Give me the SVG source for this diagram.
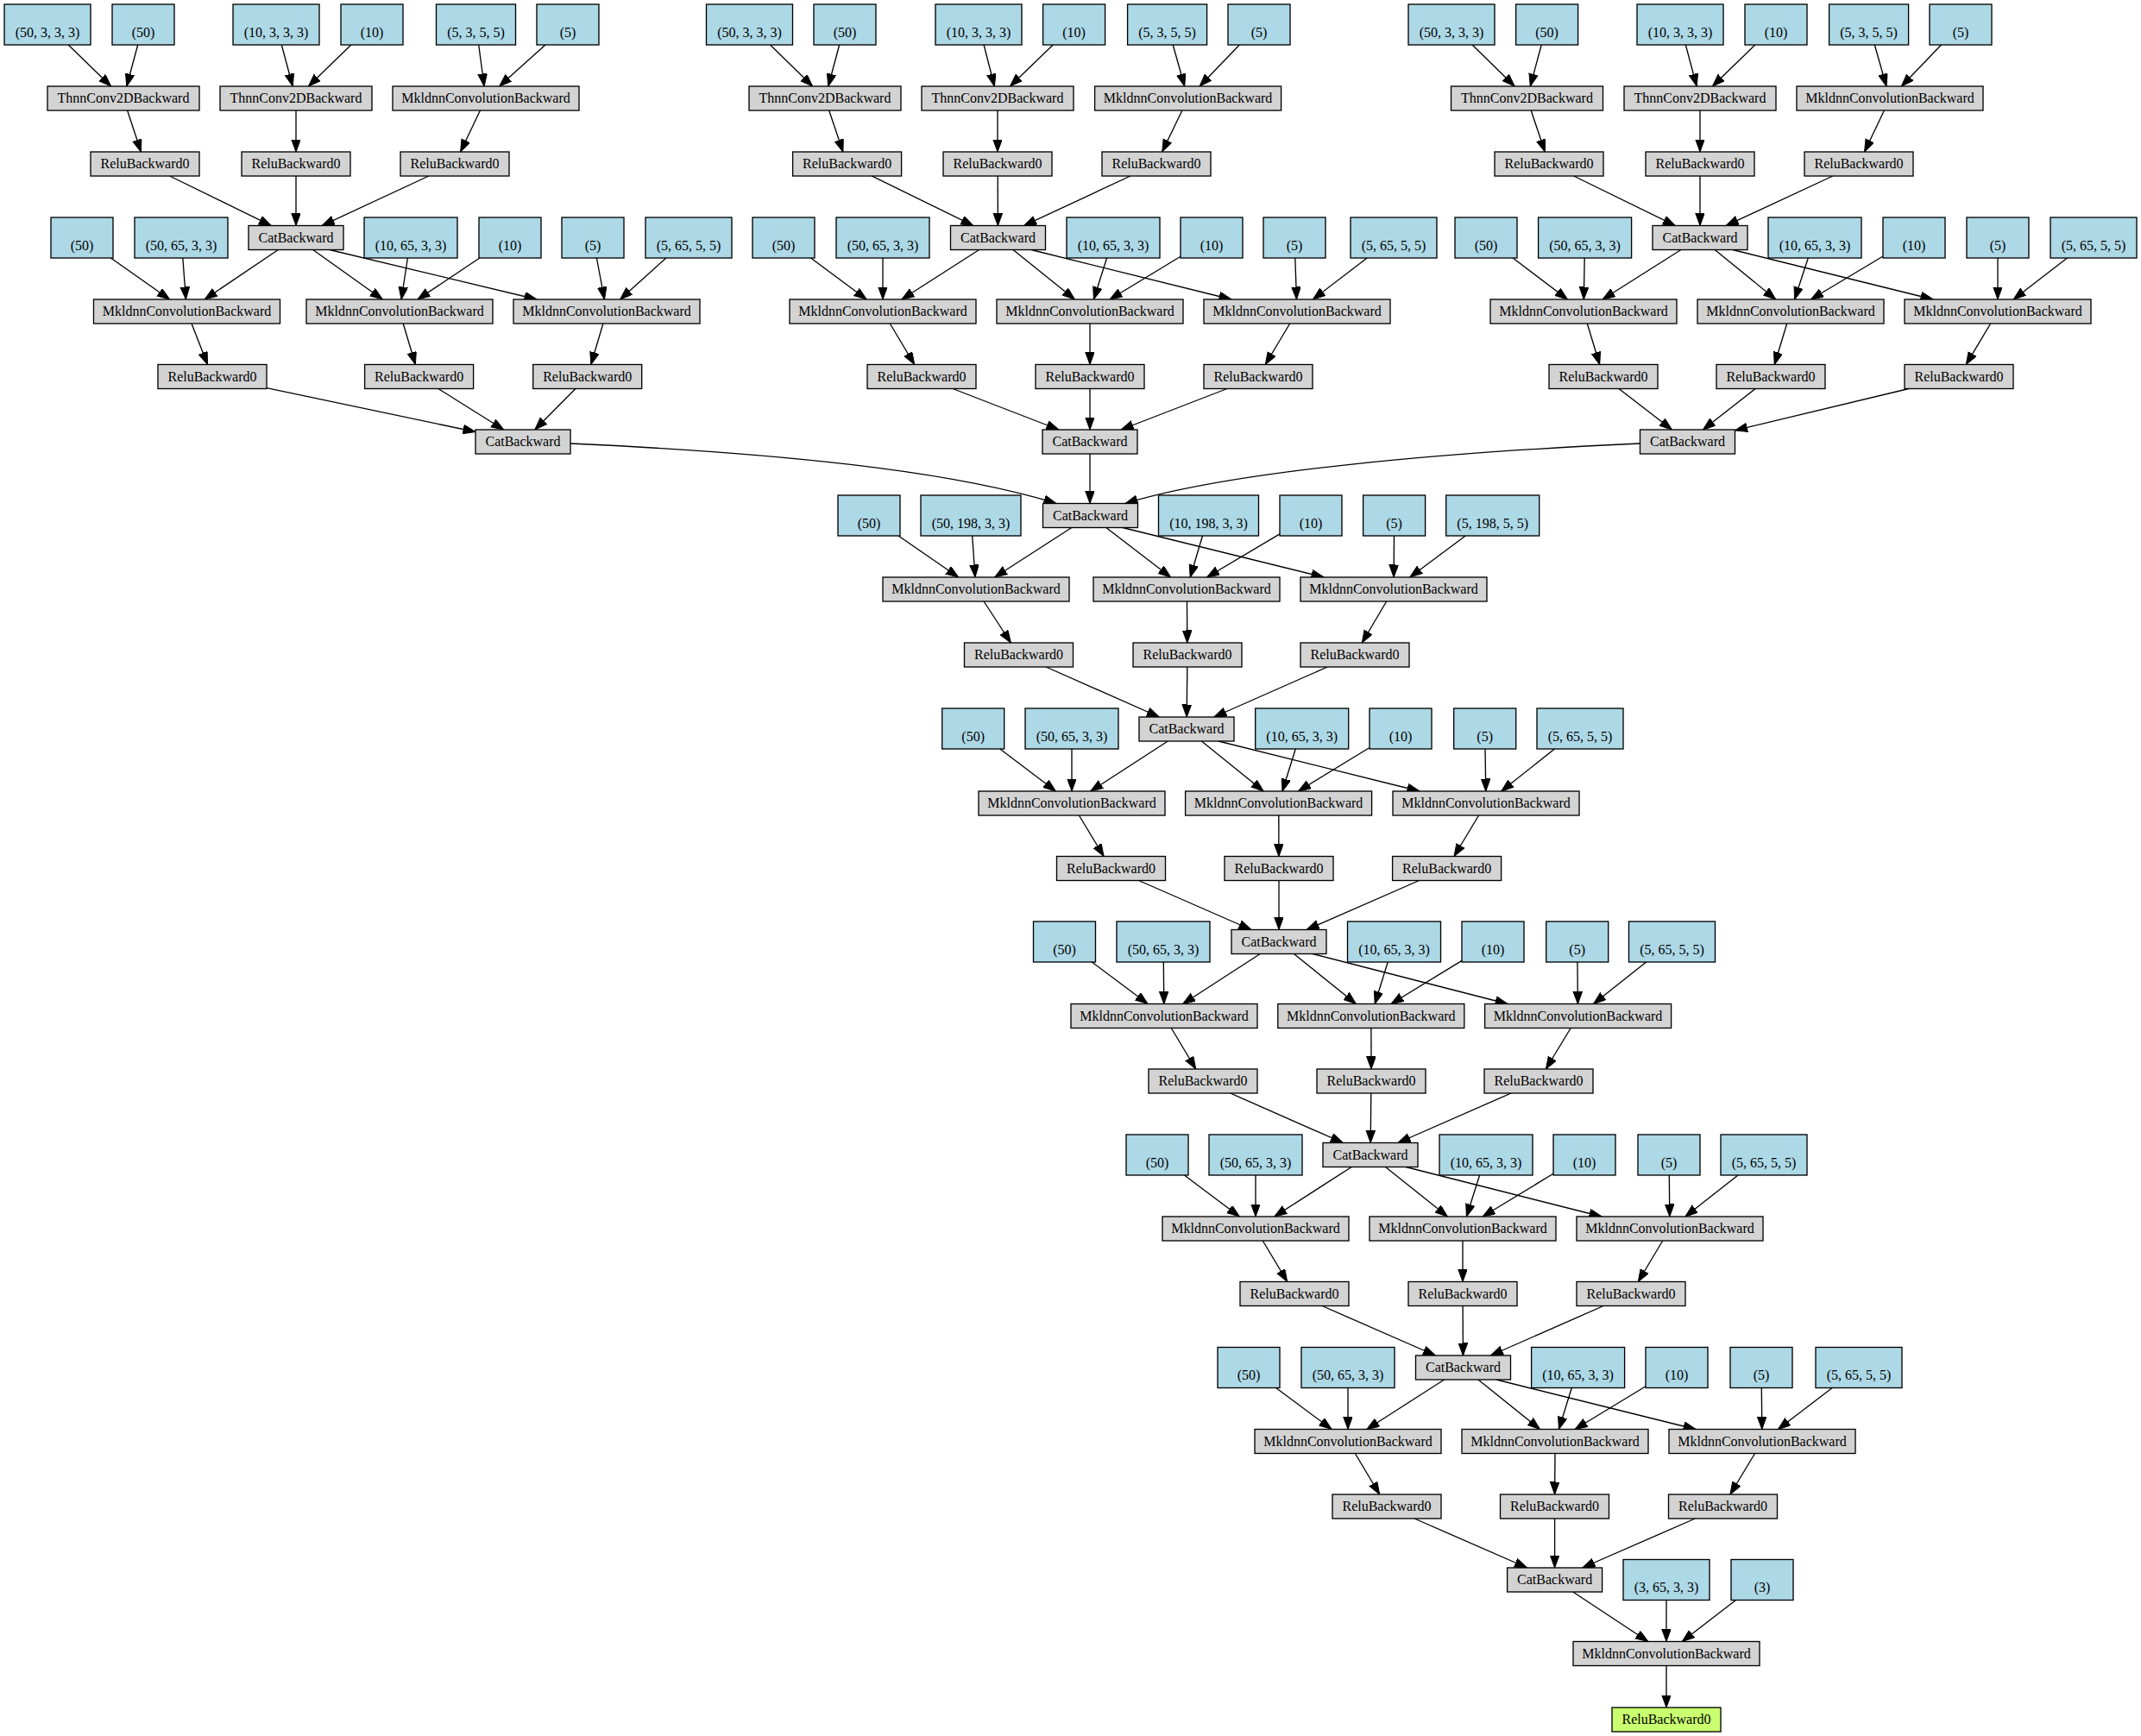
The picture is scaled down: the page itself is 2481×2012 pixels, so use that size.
<svg xmlns="http://www.w3.org/2000/svg" width="2481" height="2012" viewBox="0 0 2481 2012">
<defs>
<style>
.p,.g,.o{stroke:#000;stroke-width:1.33}
.p{fill:#add8e6}
.g{fill:#d3d3d3}
.o{fill:#caff70}
text{font-family:"Liberation Serif","Times New Roman",serif;font-size:16px;text-anchor:middle;fill:#000}
.e path{fill:none;stroke:#000;stroke-width:1.33;marker-end:url(#arr)}
</style>
<marker id="arr" markerUnits="userSpaceOnUse" markerWidth="16" markerHeight="12" refX="14.5" refY="5.3" orient="auto" viewBox="0 0 16 12"><path d="M0,0 L14.5,5.3 L0,10.6 z" fill="#000" stroke="#000" stroke-width="1"/></marker>
</defs>
<rect x="0" y="0" width="2481" height="2012" fill="#fff"/>
<g class="e" id="edges">
<path d="M79.2,52 L128.6,100"/><path d="M159.7,52 L146.8,100"/><path d="M326.3,52 L339.2,100"/><path d="M406.8,52 L357.4,100"/><path d="M554.7,52 L561.1,100"/><path d="M631.9,52 L578.6,100"/>
<path d="M147.6,128 L163.4,176"/><path d="M343,128 L343,176"/><path d="M556.4,128 L533.6,176"/>
<path d="M196.7,204 L314.3,261.5"/><path d="M343,204 L343,261.5"/><path d="M496.8,204 L373.2,261.5"/>
<path d="M128.4,299 L196.6,347"/><path d="M211.8,299 L215.4,347"/><path d="M322.3,289.5 L237.2,347"/><path d="M362.7,289.5 L443.3,347"/><path d="M472.4,299 L465.1,347"/><path d="M555.8,299 L484,347"/><path d="M382,289.5 L622,347"/><path d="M691.4,299 L700.4,347"/><path d="M771.9,299 L718.6,347"/>
<path d="M222,375 L240.5,422.5"/><path d="M467.2,375 L481.4,422.5"/><path d="M698.9,375 L684.8,422.5"/>
<path d="M309,449.7 L551,500.5"/><path d="M507.9,450.5 L583.7,498"/><path d="M666.9,450.5 L619.8,498"/>
<path d="M892.6,52 L941.6,100"/><path d="M972.7,52 L959.8,100"/><path d="M1140.1,52 L1152.4,100"/><path d="M1220.2,52 L1170.5,100"/><path d="M1359.2,52 L1372.7,100"/><path d="M1436.3,52 L1390.1,100"/>
<path d="M960.7,128 L976.9,176"/><path d="M1156,128 L1156,176"/><path d="M1369.9,128 L1346.7,176"/>
<path d="M1010.3,204 L1127.8,261.5"/><path d="M1156.2,204 L1156.4,261.5"/><path d="M1309.9,204 L1186.6,261.5"/>
<path d="M939.6,299 L1004.1,347"/><path d="M1023,299 L1023,347"/><path d="M1134.6,289.5 L1044.9,347"/><path d="M1174,289.5 L1245.5,347"/><path d="M1282.6,299 L1267.4,347"/><path d="M1368,297.3 L1286.1,347"/><path d="M1195,289.5 L1427,347"/><path d="M1500.8,299 L1502.5,347"/><path d="M1584.2,299 L1521.4,347"/>
<path d="M1031.3,375 L1059.7,422.5"/><path d="M1263,375 L1263,422.5"/><path d="M1494.7,375 L1466.3,422.5"/>
<path d="M1104.1,450.5 L1226.9,498"/><path d="M1263,450.5 L1263,498"/><path d="M1421.9,450.5 L1299.1,498"/>
<path d="M1706.1,52 L1755.2,100"/><path d="M1786.2,52 L1773.3,100"/><path d="M1953.3,52 L1966.2,100"/><path d="M2033.8,52 L1984.4,100"/><path d="M2172.3,52 L2186,100"/><path d="M2249.5,52 L2203.4,100"/>
<path d="M1774.2,128 L1790.3,176"/><path d="M1970,128 L1970,176"/><path d="M2183.4,128 L2160.6,176"/>
<path d="M1823.7,204 L1941.3,261.5"/><path d="M1970,204 L1970,261.5"/><path d="M2123.8,204 L2000.2,261.5"/>
<path d="M1753.1,299 L1816.5,347"/><path d="M1836.2,299 L1835.3,347"/><path d="M1947.9,289.5 L1857.1,347"/><path d="M1987.2,289.5 L2057.8,347"/><path d="M2095.3,299 L2079.6,347"/><path d="M2182,297 L2098.5,347"/><path d="M2008,289.5 L2240,347"/><path d="M2315,299 L2315,347"/><path d="M2395.5,299 L2333.2,347"/>
<path d="M1839.3,375 L1853.7,422.5"/><path d="M2070.7,375 L2056.3,422.5"/><path d="M2306.7,375 L2278.3,422.5"/>
<path d="M1876,450.5 L1937.5,498"/><path d="M2034.1,450.5 L1973.4,498"/><path d="M2211.8,450.5 L2010.5,498.8"/>
<path d="M660.5,514 C900,525 1100,545 1224,583.5"/><path d="M1263,526 L1263,583.5"/><path d="M1900.5,514 C1680,524 1430,545 1304,583.5"/>
<path d="M1041.1,621 L1110.7,669"/><path d="M1126.7,621 L1130,669"/><path d="M1241.8,611.5 L1152.7,669"/><path d="M1281.8,611.5 L1356.7,669"/><path d="M1393.5,621 L1379.2,669"/><path d="M1483,618.9 L1398.6,669"/><path d="M1301,611.5 L1534,669"/><path d="M1615.5,621 L1615.1,669"/><path d="M1698.2,621 L1633.8,669"/>
<path d="M1140.1,697 L1171.4,745"/><path d="M1375.5,697 L1375.8,745"/><path d="M1606.7,697 L1578.3,745"/>
<path d="M1212.2,773 L1343.3,831"/><path d="M1375.8,773 L1375.2,831"/><path d="M1538.2,773 L1406.8,831"/>
<path d="M1158.8,868 L1223.5,917"/><path d="M1242,868 L1242,917"/><path d="M1353.3,859 L1263.7,917"/><path d="M1392.4,859 L1464.2,917"/><path d="M1501.3,868 L1486,917"/><path d="M1587,866.5 L1504.5,917"/><path d="M1412,859 L1645,917"/><path d="M1721,868 L1721.8,917"/><path d="M1801.4,868 L1739.7,917"/>
<path d="M1250.4,945 L1279.1,992.5"/><path d="M1481.8,945 L1481.9,992.5"/><path d="M1713.6,945 L1685,992.5"/>
<path d="M1319.6,1020.5 L1449.9,1077.5"/><path d="M1482,1020.5 L1482,1077.5"/><path d="M1644.5,1020.5 L1514.1,1077.5"/>
<path d="M1265.3,1115 L1330.1,1163.5"/><path d="M1348.3,1115 L1348.8,1163.5"/><path d="M1460.3,1105.5 L1370.7,1163.5"/><path d="M1499.4,1105.5 L1571.4,1163.5"/><path d="M1608.2,1115 L1593.2,1163.5"/><path d="M1694,1113.4 L1612,1163.5"/><path d="M1521,1105.5 L1747,1163.5"/><path d="M1827.9,1115 L1828.4,1163.5"/><path d="M1907.6,1115 L1846.5,1163.5"/>
<path d="M1357.3,1191.5 L1385.7,1239"/><path d="M1588.9,1191.5 L1589,1239"/><path d="M1820.2,1191.5 L1791.4,1239"/>
<path d="M1425.8,1267 L1556.2,1324.5"/><path d="M1588.8,1267 L1588.2,1324.5"/><path d="M1751,1267 L1620,1324.5"/>
<path d="M1372.4,1362 L1436.3,1410"/><path d="M1455,1362 L1455,1410"/><path d="M1566.2,1352.5 L1476.8,1410"/><path d="M1605.5,1352.5 L1677.5,1410"/><path d="M1714.6,1362 L1699.4,1410"/><path d="M1800,1360.3 L1718.1,1410"/><path d="M1629,1352.5 L1856,1410"/><path d="M1934.3,1362 L1934.8,1410"/><path d="M2014,1362 L1952.9,1410"/>
<path d="M1463.3,1438 L1491.7,1485.5"/><path d="M1695,1438 L1695,1485.5"/><path d="M1926.7,1438 L1898.3,1485.5"/>
<path d="M1532.1,1513.5 L1663.4,1571"/><path d="M1695.1,1513.5 L1695.4,1571"/><path d="M1858.1,1513.5 L1727.4,1571"/>
<path d="M1478.6,1608.5 L1543.1,1656.5"/><path d="M1562,1608.5 L1562,1656.5"/><path d="M1673.6,1599 L1583.9,1656.5"/><path d="M1713,1599 L1784.5,1656.5"/><path d="M1821.3,1608.5 L1806.4,1656.5"/><path d="M1907,1606.8 L1825.1,1656.5"/><path d="M1734,1599 L1965,1656.5"/><path d="M2041.3,1608.5 L2041.8,1656.5"/><path d="M2123.2,1608.5 L2060.4,1656.5"/>
<path d="M1570.3,1684.5 L1598.7,1732"/><path d="M1802,1684.5 L1801.6,1732"/><path d="M2033.6,1684.5 L2004.9,1732"/>
<path d="M1639.1,1760 L1769.5,1817"/><path d="M1801.6,1760 L1801.6,1817"/><path d="M1964.3,1760 L1833.8,1817"/>
<path d="M1822.8,1845 L1909.8,1902.5"/><path d="M1931,1854.5 L1931,1902.5"/><path d="M2011.5,1854.5 L1949.2,1902.5"/>
<path d="M1931,1930.5 L1931,1979"/>
</g>
<!-- block 1 -->
<g id="b1_a1"><rect class="p" x="5" y="5" width="100" height="47"/><text x="55" y="42.5">(50, 3, 3, 3)</text></g>
<g id="b1_a2"><rect class="p" x="130" y="5" width="72" height="47"/><text x="166" y="42.5">(50)</text></g>
<g id="b1_a3"><rect class="p" x="270" y="5" width="100" height="47"/><text x="320" y="42.5">(10, 3, 3, 3)</text></g>
<g id="b1_a4"><rect class="p" x="395" y="5" width="72" height="47"/><text x="431" y="42.5">(10)</text></g>
<g id="b1_a5"><rect class="p" x="505.5" y="5" width="92" height="47"/><text x="551.5" y="42.5">(5, 3, 5, 5)</text></g>
<g id="b1_a6"><rect class="p" x="622" y="5" width="72" height="47"/><text x="658" y="42.5">(5)</text></g>
<g id="b1_b1"><rect class="g" x="55" y="100" width="176" height="28"/><text x="143" y="119">ThnnConv2DBackward</text></g>
<g id="b1_b2"><rect class="g" x="255" y="100" width="176" height="28"/><text x="343" y="119">ThnnConv2DBackward</text></g>
<g id="b1_b3"><rect class="g" x="455" y="100" width="216" height="28"/><text x="563" y="119">MkldnnConvolutionBackward</text></g>
<g id="b1_c1"><rect class="g" x="105" y="176" width="126" height="28"/><text x="168" y="195">ReluBackward0</text></g>
<g id="b1_c2"><rect class="g" x="280" y="176" width="126" height="28"/><text x="343" y="195">ReluBackward0</text></g>
<g id="b1_c3"><rect class="g" x="464" y="176" width="126" height="28"/><text x="527" y="195">ReluBackward0</text></g>
<g id="b1_d1"><rect class="p" x="59" y="252" width="72" height="47"/><text x="95" y="289.5">(50)</text></g>
<g id="b1_d2"><rect class="p" x="156" y="252" width="108" height="47"/><text x="210" y="289.5">(50, 65, 3, 3)</text></g>
<g id="b1_cat1"><rect class="g" x="288" y="261.5" width="110" height="28"/><text x="343" y="280.5">CatBackward</text></g>
<g id="b1_d3"><rect class="p" x="422" y="252" width="108" height="47"/><text x="476" y="289.5">(10, 65, 3, 3)</text></g>
<g id="b1_d4"><rect class="p" x="555" y="252" width="72" height="47"/><text x="591" y="289.5">(10)</text></g>
<g id="b1_d5"><rect class="p" x="651" y="252" width="72" height="47"/><text x="687" y="289.5">(5)</text></g>
<g id="b1_d6"><rect class="p" x="748" y="252" width="100" height="47"/><text x="798" y="289.5">(5, 65, 5, 5)</text></g>
<g id="b1_e1"><rect class="g" x="108.5" y="347" width="216" height="28"/><text x="216.5" y="366">MkldnnConvolutionBackward</text></g>
<g id="b1_e2"><rect class="g" x="355" y="347" width="216" height="28"/><text x="463" y="366">MkldnnConvolutionBackward</text></g>
<g id="b1_e3"><rect class="g" x="595" y="347" width="216" height="28"/><text x="703" y="366">MkldnnConvolutionBackward</text></g>
<g id="b1_f1"><rect class="g" x="183" y="422.5" width="126" height="28"/><text x="246" y="441.5">ReluBackward0</text></g>
<g id="b1_f2"><rect class="g" x="422.6" y="422.5" width="126" height="28"/><text x="485.6" y="441.5">ReluBackward0</text></g>
<g id="b1_f3"><rect class="g" x="617.7" y="422.5" width="126" height="28"/><text x="680.7" y="441.5">ReluBackward0</text></g>
<g id="b1_cat2"><rect class="g" x="551" y="498" width="110" height="28"/><text x="606" y="517">CatBackward</text></g>
<!-- block 2 -->
<g id="b2_a1"><rect class="p" x="818.5" y="5" width="100" height="47"/><text x="868.5" y="42.5">(50, 3, 3, 3)</text></g>
<g id="b2_a2"><rect class="p" x="943" y="5" width="72" height="47"/><text x="979" y="42.5">(50)</text></g>
<g id="b2_a3"><rect class="p" x="1084" y="5" width="100" height="47"/><text x="1134" y="42.5">(10, 3, 3, 3)</text></g>
<g id="b2_a4"><rect class="p" x="1208.6" y="5" width="72" height="47"/><text x="1244.6" y="42.5">(10)</text></g>
<g id="b2_a5"><rect class="p" x="1306.6" y="5" width="92" height="47"/><text x="1352.6" y="42.5">(5, 3, 5, 5)</text></g>
<g id="b2_a6"><rect class="p" x="1423" y="5" width="72" height="47"/><text x="1459" y="42.5">(5)</text></g>
<g id="b2_b1"><rect class="g" x="868" y="100" width="176" height="28"/><text x="956" y="119">ThnnConv2DBackward</text></g>
<g id="b2_b2"><rect class="g" x="1068" y="100" width="176" height="28"/><text x="1156" y="119">ThnnConv2DBackward</text></g>
<g id="b2_b3"><rect class="g" x="1268.6" y="100" width="216" height="28"/><text x="1376.6" y="119">MkldnnConvolutionBackward</text></g>
<g id="b2_c1"><rect class="g" x="918.6" y="176" width="126" height="28"/><text x="981.6" y="195">ReluBackward0</text></g>
<g id="b2_c2"><rect class="g" x="1093" y="176" width="126" height="28"/><text x="1156" y="195">ReluBackward0</text></g>
<g id="b2_c3"><rect class="g" x="1277" y="176" width="126" height="28"/><text x="1340" y="195">ReluBackward0</text></g>
<g id="b2_d1"><rect class="p" x="872" y="252" width="72" height="47"/><text x="908" y="289.5">(50)</text></g>
<g id="b2_d2"><rect class="p" x="969" y="252" width="108" height="47"/><text x="1023" y="289.5">(50, 65, 3, 3)</text></g>
<g id="b2_cat1"><rect class="g" x="1101.5" y="261.5" width="110" height="28"/><text x="1156.5" y="280.5">CatBackward</text></g>
<g id="b2_d3"><rect class="p" x="1236" y="252" width="108" height="47"/><text x="1290" y="289.5">(10, 65, 3, 3)</text></g>
<g id="b2_d4"><rect class="p" x="1368" y="252" width="72" height="47"/><text x="1404" y="289.5">(10)</text></g>
<g id="b2_d5"><rect class="p" x="1464" y="252" width="72" height="47"/><text x="1500" y="289.5">(5)</text></g>
<g id="b2_d6"><rect class="p" x="1565" y="252" width="100" height="47"/><text x="1615" y="289.5">(5, 65, 5, 5)</text></g>
<g id="b2_e1"><rect class="g" x="915" y="347" width="216" height="28"/><text x="1023" y="366">MkldnnConvolutionBackward</text></g>
<g id="b2_e2"><rect class="g" x="1155" y="347" width="216" height="28"/><text x="1263" y="366">MkldnnConvolutionBackward</text></g>
<g id="b2_e3"><rect class="g" x="1395" y="347" width="216" height="28"/><text x="1503" y="366">MkldnnConvolutionBackward</text></g>
<g id="b2_f1"><rect class="g" x="1005" y="422.5" width="126" height="28"/><text x="1068" y="441.5">ReluBackward0</text></g>
<g id="b2_f2"><rect class="g" x="1200" y="422.5" width="126" height="28"/><text x="1263" y="441.5">ReluBackward0</text></g>
<g id="b2_f3"><rect class="g" x="1395" y="422.5" width="126" height="28"/><text x="1458" y="441.5">ReluBackward0</text></g>
<g id="b2_cat2"><rect class="g" x="1208" y="498" width="110" height="28"/><text x="1263" y="517">CatBackward</text></g>
<!-- block 3 -->
<g id="b3_a1"><rect class="p" x="1632" y="5" width="100" height="47"/><text x="1682" y="42.5">(50, 3, 3, 3)</text></g>
<g id="b3_a2"><rect class="p" x="1756.6" y="5" width="72" height="47"/><text x="1792.6" y="42.5">(50)</text></g>
<g id="b3_a3"><rect class="p" x="1897" y="5" width="100" height="47"/><text x="1947" y="42.5">(10, 3, 3, 3)</text></g>
<g id="b3_a4"><rect class="p" x="2022" y="5" width="72" height="47"/><text x="2058" y="42.5">(10)</text></g>
<g id="b3_a5"><rect class="p" x="2119.6" y="5" width="92" height="47"/><text x="2165.6" y="42.5">(5, 3, 5, 5)</text></g>
<g id="b3_a6"><rect class="p" x="2236" y="5" width="72" height="47"/><text x="2272" y="42.5">(5)</text></g>
<g id="b3_b1"><rect class="g" x="1681.5" y="100" width="176" height="28"/><text x="1769.5" y="119">ThnnConv2DBackward</text></g>
<g id="b3_b2"><rect class="g" x="1882" y="100" width="176" height="28"/><text x="1970" y="119">ThnnConv2DBackward</text></g>
<g id="b3_b3"><rect class="g" x="2082" y="100" width="216" height="28"/><text x="2190" y="119">MkldnnConvolutionBackward</text></g>
<g id="b3_c1"><rect class="g" x="1732" y="176" width="126" height="28"/><text x="1795" y="195">ReluBackward0</text></g>
<g id="b3_c2"><rect class="g" x="1907" y="176" width="126" height="28"/><text x="1970" y="195">ReluBackward0</text></g>
<g id="b3_c3"><rect class="g" x="2091" y="176" width="126" height="28"/><text x="2154" y="195">ReluBackward0</text></g>
<g id="b3_d1"><rect class="p" x="1686" y="252" width="72" height="47"/><text x="1722" y="289.5">(50)</text></g>
<g id="b3_d2"><rect class="p" x="1782.6" y="252" width="108" height="47"/><text x="1836.6" y="289.5">(50, 65, 3, 3)</text></g>
<g id="b3_cat1"><rect class="g" x="1915" y="261.5" width="110" height="28"/><text x="1970" y="280.5">CatBackward</text></g>
<g id="b3_d3"><rect class="p" x="2049" y="252" width="108" height="47"/><text x="2103" y="289.5">(10, 65, 3, 3)</text></g>
<g id="b3_d4"><rect class="p" x="2182" y="252" width="72" height="47"/><text x="2218" y="289.5">(10)</text></g>
<g id="b3_d5"><rect class="p" x="2279" y="252" width="72" height="47"/><text x="2315" y="289.5">(5)</text></g>
<g id="b3_d6"><rect class="p" x="2376" y="252" width="100" height="47"/><text x="2426" y="289.5">(5, 65, 5, 5)</text></g>
<g id="b3_e1"><rect class="g" x="1727" y="347" width="216" height="28"/><text x="1835" y="366">MkldnnConvolutionBackward</text></g>
<g id="b3_e2"><rect class="g" x="1967" y="347" width="216" height="28"/><text x="2075" y="366">MkldnnConvolutionBackward</text></g>
<g id="b3_e3"><rect class="g" x="2207" y="347" width="216" height="28"/><text x="2315" y="366">MkldnnConvolutionBackward</text></g>
<g id="b3_f1"><rect class="g" x="1795" y="422.5" width="126" height="28"/><text x="1858" y="441.5">ReluBackward0</text></g>
<g id="b3_f2"><rect class="g" x="1989" y="422.5" width="126" height="28"/><text x="2052" y="441.5">ReluBackward0</text></g>
<g id="b3_f3"><rect class="g" x="2207" y="422.5" width="126" height="28"/><text x="2270" y="441.5">ReluBackward0</text></g>
<g id="b3_cat2"><rect class="g" x="1900.5" y="498" width="110" height="28"/><text x="1955.5" y="517">CatBackward</text></g>
<!-- stage H -->
<g id="h_p1"><rect class="p" x="971" y="574" width="72" height="47"/><text x="1007" y="611.5">(50)</text></g>
<g id="h_p2"><rect class="p" x="1067" y="574" width="116" height="47"/><text x="1125" y="611.5">(50, 198, 3, 3)</text></g>
<g id="h_cat"><rect class="g" x="1208.5" y="583.5" width="110" height="28"/><text x="1263.5" y="602.5">CatBackward</text></g>
<g id="h_p3"><rect class="p" x="1342.5" y="574" width="116" height="47"/><text x="1400.5" y="611.5">(10, 198, 3, 3)</text></g>
<g id="h_p4"><rect class="p" x="1483" y="574" width="72" height="47"/><text x="1519" y="611.5">(10)</text></g>
<g id="h_p5"><rect class="p" x="1579.6" y="574" width="72" height="47"/><text x="1615.6" y="611.5">(5)</text></g>
<g id="h_p6"><rect class="p" x="1675.7" y="574" width="108" height="47"/><text x="1729.7" y="611.5">(5, 198, 5, 5)</text></g>
<g id="h_m1"><rect class="g" x="1023" y="669" width="216" height="28"/><text x="1131" y="688">MkldnnConvolutionBackward</text></g>
<g id="h_m2"><rect class="g" x="1267" y="669" width="216" height="28"/><text x="1375" y="688">MkldnnConvolutionBackward</text></g>
<g id="h_m3"><rect class="g" x="1507" y="669" width="216" height="28"/><text x="1615" y="688">MkldnnConvolutionBackward</text></g>
<g id="h_r1"><rect class="g" x="1117.5" y="745" width="126" height="28"/><text x="1180.5" y="764">ReluBackward0</text></g>
<g id="h_r2"><rect class="g" x="1313" y="745" width="126" height="28"/><text x="1376" y="764">ReluBackward0</text></g>
<g id="h_r3"><rect class="g" x="1507" y="745" width="126" height="28"/><text x="1570" y="764">ReluBackward0</text></g>
<!-- stage K -->
<g id="k_p1"><rect class="p" x="1091.7" y="821" width="72" height="47"/><text x="1127.7" y="858.5">(50)</text></g>
<g id="k_p2"><rect class="p" x="1188" y="821" width="108" height="47"/><text x="1242" y="858.5">(50, 65, 3, 3)</text></g>
<g id="k_cat"><rect class="g" x="1320" y="831" width="110" height="28"/><text x="1375" y="850">CatBackward</text></g>
<g id="k_p3"><rect class="p" x="1454.7" y="821" width="108" height="47"/><text x="1508.7" y="858.5">(10, 65, 3, 3)</text></g>
<g id="k_p4"><rect class="p" x="1587" y="821" width="72" height="47"/><text x="1623" y="858.5">(10)</text></g>
<g id="k_p5"><rect class="p" x="1684.7" y="821" width="72" height="47"/><text x="1720.7" y="858.5">(5)</text></g>
<g id="k_p6"><rect class="p" x="1781" y="821" width="100" height="47"/><text x="1831" y="858.5">(5, 65, 5, 5)</text></g>
<g id="k_m1"><rect class="g" x="1134" y="917" width="216" height="28"/><text x="1242" y="936">MkldnnConvolutionBackward</text></g>
<g id="k_m2"><rect class="g" x="1373.6" y="917" width="216" height="28"/><text x="1481.6" y="936">MkldnnConvolutionBackward</text></g>
<g id="k_m3"><rect class="g" x="1614" y="917" width="216" height="28"/><text x="1722" y="936">MkldnnConvolutionBackward</text></g>
<g id="k_r1"><rect class="g" x="1224.5" y="992.5" width="126" height="28"/><text x="1287.5" y="1011.5">ReluBackward0</text></g>
<g id="k_r2"><rect class="g" x="1419" y="992.5" width="126" height="28"/><text x="1482" y="1011.5">ReluBackward0</text></g>
<g id="k_r3"><rect class="g" x="1613.6" y="992.5" width="126" height="28"/><text x="1676.6" y="1011.5">ReluBackward0</text></g>
<!-- stage N -->
<g id="n_p1"><rect class="p" x="1197.5" y="1068" width="72" height="47"/><text x="1233.5" y="1105.5">(50)</text></g>
<g id="n_p2"><rect class="p" x="1294" y="1068" width="108" height="47"/><text x="1348" y="1105.5">(50, 65, 3, 3)</text></g>
<g id="n_cat"><rect class="g" x="1427" y="1077.5" width="110" height="28"/><text x="1482" y="1096.5">CatBackward</text></g>
<g id="n_p3"><rect class="p" x="1561.5" y="1068" width="108" height="47"/><text x="1615.5" y="1105.5">(10, 65, 3, 3)</text></g>
<g id="n_p4"><rect class="p" x="1694" y="1068" width="72" height="47"/><text x="1730" y="1105.5">(10)</text></g>
<g id="n_p5"><rect class="p" x="1791.7" y="1068" width="72" height="47"/><text x="1827.7" y="1105.5">(5)</text></g>
<g id="n_p6"><rect class="p" x="1887.5" y="1068" width="100" height="47"/><text x="1937.5" y="1105.5">(5, 65, 5, 5)</text></g>
<g id="n_m1"><rect class="g" x="1241" y="1163.5" width="216" height="28"/><text x="1349" y="1182.5">MkldnnConvolutionBackward</text></g>
<g id="n_m2"><rect class="g" x="1480.8" y="1163.5" width="216" height="28"/><text x="1588.8" y="1182.5">MkldnnConvolutionBackward</text></g>
<g id="n_m3"><rect class="g" x="1720.6" y="1163.5" width="216" height="28"/><text x="1828.6" y="1182.5">MkldnnConvolutionBackward</text></g>
<g id="n_r1"><rect class="g" x="1331" y="1239" width="126" height="28"/><text x="1394" y="1258">ReluBackward0</text></g>
<g id="n_r2"><rect class="g" x="1526" y="1239" width="126" height="28"/><text x="1589" y="1258">ReluBackward0</text></g>
<g id="n_r3"><rect class="g" x="1720" y="1239" width="126" height="28"/><text x="1783" y="1258">ReluBackward0</text></g>
<!-- stage Q -->
<g id="q_p1"><rect class="p" x="1305" y="1315" width="72" height="47"/><text x="1341" y="1352.5">(50)</text></g>
<g id="q_p2"><rect class="p" x="1401" y="1315" width="108" height="47"/><text x="1455" y="1352.5">(50, 65, 3, 3)</text></g>
<g id="q_cat"><rect class="g" x="1533" y="1324.5" width="110" height="28"/><text x="1588" y="1343.5">CatBackward</text></g>
<g id="q_p3"><rect class="p" x="1668" y="1315" width="108" height="47"/><text x="1722" y="1352.5">(10, 65, 3, 3)</text></g>
<g id="q_p4"><rect class="p" x="1800" y="1315" width="72" height="47"/><text x="1836" y="1352.5">(10)</text></g>
<g id="q_p5"><rect class="p" x="1898" y="1315" width="72" height="47"/><text x="1934" y="1352.5">(5)</text></g>
<g id="q_p6"><rect class="p" x="1994" y="1315" width="100" height="47"/><text x="2044" y="1352.5">(5, 65, 5, 5)</text></g>
<g id="q_m1"><rect class="g" x="1347" y="1410" width="216" height="28"/><text x="1455" y="1429">MkldnnConvolutionBackward</text></g>
<g id="q_m2"><rect class="g" x="1587" y="1410" width="216" height="28"/><text x="1695" y="1429">MkldnnConvolutionBackward</text></g>
<g id="q_m3"><rect class="g" x="1827" y="1410" width="216" height="28"/><text x="1935" y="1429">MkldnnConvolutionBackward</text></g>
<g id="q_r1"><rect class="g" x="1437" y="1485.5" width="126" height="28"/><text x="1500" y="1504.5">ReluBackward0</text></g>
<g id="q_r2"><rect class="g" x="1632" y="1485.5" width="126" height="28"/><text x="1695" y="1504.5">ReluBackward0</text></g>
<g id="q_r3"><rect class="g" x="1827" y="1485.5" width="126" height="28"/><text x="1890" y="1504.5">ReluBackward0</text></g>
<!-- stage T -->
<g id="t_p1"><rect class="p" x="1411" y="1561.5" width="72" height="47"/><text x="1447" y="1599">(50)</text></g>
<g id="t_p2"><rect class="p" x="1508" y="1561.5" width="108" height="47"/><text x="1562" y="1599">(50, 65, 3, 3)</text></g>
<g id="t_cat"><rect class="g" x="1640.5" y="1571" width="110" height="28"/><text x="1695.5" y="1590">CatBackward</text></g>
<g id="t_p3"><rect class="p" x="1774.6" y="1561.5" width="108" height="47"/><text x="1828.6" y="1599">(10, 65, 3, 3)</text></g>
<g id="t_p4"><rect class="p" x="1907" y="1561.5" width="72" height="47"/><text x="1943" y="1599">(10)</text></g>
<g id="t_p5"><rect class="p" x="2005" y="1561.5" width="72" height="47"/><text x="2041" y="1599">(5)</text></g>
<g id="t_p6"><rect class="p" x="2104" y="1561.5" width="100" height="47"/><text x="2154" y="1599">(5, 65, 5, 5)</text></g>
<g id="t_m1"><rect class="g" x="1454" y="1656.5" width="216" height="28"/><text x="1562" y="1675.5">MkldnnConvolutionBackward</text></g>
<g id="t_m2"><rect class="g" x="1694" y="1656.5" width="216" height="28"/><text x="1802" y="1675.5">MkldnnConvolutionBackward</text></g>
<g id="t_m3"><rect class="g" x="1934" y="1656.5" width="216" height="28"/><text x="2042" y="1675.5">MkldnnConvolutionBackward</text></g>
<g id="t_r1"><rect class="g" x="1544" y="1732" width="126" height="28"/><text x="1607" y="1751">ReluBackward0</text></g>
<g id="t_r2"><rect class="g" x="1738.5" y="1732" width="126" height="28"/><text x="1801.5" y="1751">ReluBackward0</text></g>
<g id="t_r3"><rect class="g" x="1933.5" y="1732" width="126" height="28"/><text x="1996.5" y="1751">ReluBackward0</text></g>
<!-- final -->
<g id="w_cat"><rect class="g" x="1746.6" y="1817" width="110" height="28"/><text x="1801.6" y="1836">CatBackward</text></g>
<g id="w_p1"><rect class="p" x="1881" y="1807.5" width="100" height="47"/><text x="1931" y="1845">(3, 65, 3, 3)</text></g>
<g id="w_p2"><rect class="p" x="2006" y="1807.5" width="72" height="47"/><text x="2042" y="1845">(3)</text></g>
<g id="x_mk"><rect class="g" x="1823" y="1902.5" width="216" height="28"/><text x="1931" y="1921.5">MkldnnConvolutionBackward</text></g>
<g id="y_out"><rect class="o" x="1868" y="1979" width="126" height="28"/><text x="1931" y="1998">ReluBackward0</text></g>
</svg>
